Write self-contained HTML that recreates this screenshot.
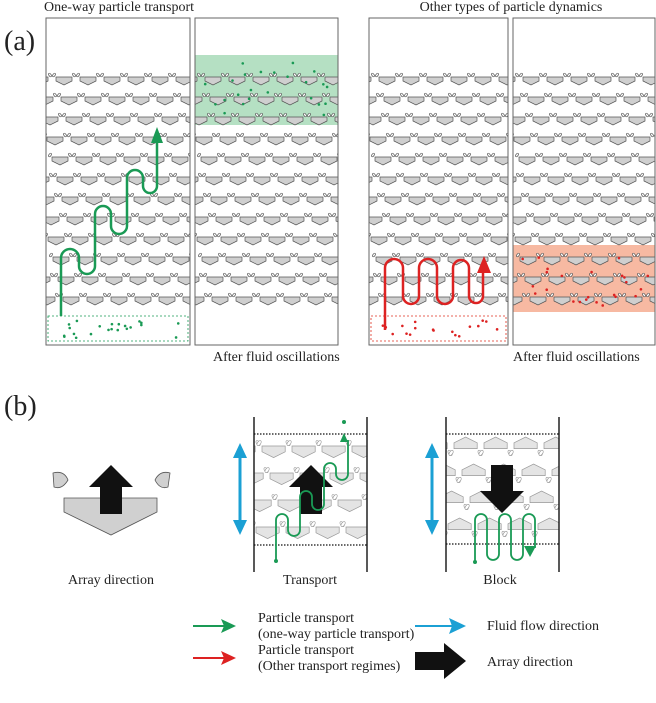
<!DOCTYPE html>
<html><head><meta charset="utf-8"><style>
html,body{margin:0;padding:0;background:#fff}
svg{display:block}
text{font-family:"Liberation Serif",serif;fill:#222}
</style></head><body>
<svg id="s" width="656" height="703" viewBox="0 0 656 703" xmlns="http://www.w3.org/2000/svg">
<defs>
<clipPath id="c1"><rect x="46" y="18" width="144" height="327"/></clipPath>
<clipPath id="c2"><rect x="195" y="18" width="143" height="327"/></clipPath>
<clipPath id="c3"><rect x="369" y="18" width="139" height="327"/></clipPath>
<clipPath id="c4"><rect x="513" y="18" width="142" height="327"/></clipPath>
<clipPath id="ct"><rect x="254" y="434" width="113" height="111"/></clipPath>
<clipPath id="cb"><rect x="446" y="434" width="113" height="110"/></clipPath>
</defs>
<text x="119" y="11" font-size="14" text-anchor="middle">One-way particle transport</text>
<text x="511" y="11" font-size="14" text-anchor="middle">Other types of particle dynamics</text>
<text x="4" y="50" font-size="28">(a)</text>
<rect x="195" y="55" width="143" height="70" fill="#b5e0c3"/>
<rect x="513" y="245" width="142" height="67" fill="#f7b9a2"/>
<g id="arr"></g>
<rect x="46" y="18" width="144" height="327" fill="none" stroke="#666" stroke-width="1"/>
<rect x="195" y="18" width="143" height="327" fill="none" stroke="#666" stroke-width="1"/>
<rect x="369" y="18" width="139" height="327" fill="none" stroke="#666" stroke-width="1"/>
<rect x="513" y="18" width="142" height="327" fill="none" stroke="#666" stroke-width="1"/>
<rect x="48" y="316" width="140" height="25" fill="none" stroke="#1a9a55" stroke-dasharray="2,2" stroke-width="0.8"/>
<rect x="371" y="316" width="135" height="25" fill="none" stroke="#e03020" stroke-dasharray="2,2" stroke-width="0.8"/>
<g id="dots"></g>
<path d="M61 316 V258 a9 9 0 0 1 18 0 V266 a8 8 0 0 0 16 0 V214 a8 8 0 0 1 16 0 V226 a8 8 0 0 0 16 0 V178 a8 8 0 0 1 16 0 V186 a7 7 0 0 0 14 0 V140" fill="none" stroke="#1a9a55" stroke-width="2.5"/>
<polygon points="157,127 151,143 163,143" fill="#1a9a55"/>
<path d="M385 330 V268 a9 9 0 0 1 18 0 V296 a8 8 0 0 0 16 0 V268 a9 9 0 0 1 18 0 V296 a8 8 0 0 0 16 0 V268 a8 8 0 0 1 16 0 V296 a7 7 0 0 0 14 0 V272" fill="none" stroke="#dd2222" stroke-width="2.5"/>
<polygon points="484,256 477,273 491,273" fill="#dd2222"/>
<text x="213" y="361" font-size="14">After fluid oscillations</text>
<text x="513" y="361" font-size="14">After fluid oscillations</text>

<text x="4" y="415" font-size="28">(b)</text>
<polygon points="64,498 157,498 157,512 111,535 64,512" fill="#d0d0d0" stroke="#555" stroke-width="0.8"/>
<path d="M53 473 Q64 470 68 480 Q62 490 54 487 Z" fill="#d0d0d0" stroke="#555" stroke-width="0.8"/>
<path d="M170 473 Q160 470 155 480 Q160 490 168 487 Z" fill="#d0d0d0" stroke="#555" stroke-width="0.8"/>
<polygon points="111,465 133,487 122,487 122,514 100,514 100,487 89,487" fill="#111"/>
<text x="111" y="584" font-size="14" text-anchor="middle">Array direction</text>

<g id="tarr" clip-path="url(#ct)"></g>
<line x1="254" y1="417" x2="254" y2="572" stroke="#222" stroke-width="1.5"/>
<line x1="367" y1="417" x2="367" y2="572" stroke="#222" stroke-width="1.5"/>
<line x1="254" y1="434" x2="367" y2="434" stroke="#111" stroke-dasharray="1.5,1.5" stroke-width="1.2"/>
<line x1="254" y1="545" x2="367" y2="545" stroke="#111" stroke-dasharray="1.5,1.5" stroke-width="1.2"/>
<polygon points="311,465 333,487 322,487 322,514 300,514 300,487 289,487" fill="#111"/>
<path d="M276 561 V520 a6 6 0 0 1 12 0 V530 a6 6 0 0 0 12 0 V497 a6 6 0 0 1 12 0 V504 a6 6 0 0 0 12 0 V469 a6 6 0 0 1 12 0 V474 a6 6 0 0 0 12 0 V440" fill="none" stroke="#1a9a55" stroke-width="1.8"/>
<polygon points="344,433 340,442 348,442" fill="#1a9a55"/>
<circle cx="344" cy="422" r="2" fill="#1a9a55"/><circle cx="276" cy="561" r="2" fill="#1a9a55"/>
<path d="M240 448 V530" stroke="#1ba0d4" stroke-width="3"/>
<polygon points="240,443 233,458 247,458" fill="#1ba0d4"/><polygon points="240,535 233,520 247,520" fill="#1ba0d4"/>
<text x="310" y="584" font-size="14" text-anchor="middle">Transport</text>

<g id="barr" clip-path="url(#cb)"></g>
<line x1="446" y1="417" x2="446" y2="572" stroke="#222" stroke-width="1.5"/>
<line x1="559" y1="417" x2="559" y2="572" stroke="#222" stroke-width="1.5"/>
<line x1="446" y1="434" x2="559" y2="434" stroke="#111" stroke-dasharray="1.5,1.5" stroke-width="1.2"/>
<line x1="446" y1="544" x2="559" y2="544" stroke="#111" stroke-dasharray="1.5,1.5" stroke-width="1.2"/>
<path d="M475 561 V520 a6 6 0 0 1 12 0 V554 a6 6 0 0 0 12 0 V520 a6 6 0 0 1 12 0 V554 a6 6 0 0 0 12 0 V520 a6 6 0 0 1 12 0 V548" fill="none" stroke="#1a9a55" stroke-width="1.8"/>
<polygon points="530,557 524,546 536,546" fill="#1a9a55"/>
<circle cx="475" cy="562" r="2" fill="#1a9a55"/>
<polygon points="502,513 524,491 513,491 513,465 491,465 491,491 480,491" fill="#111"/>
<path d="M432 448 V530" stroke="#1ba0d4" stroke-width="3"/>
<polygon points="432,443 425,458 439,458" fill="#1ba0d4"/><polygon points="432,535 425,520 439,520" fill="#1ba0d4"/>
<text x="500" y="584" font-size="14" text-anchor="middle">Block</text>

<line x1="193" y1="626" x2="226" y2="626" stroke="#1a9a55" stroke-width="2"/>
<polygon points="236,626 221,619 224,626 221,633" fill="#1a9a55"/>
<text x="258" y="622" font-size="14">Particle transport</text>
<text x="258" y="638" font-size="14">(one-way particle transport)</text>
<line x1="193" y1="658" x2="226" y2="658" stroke="#dd2222" stroke-width="2"/>
<polygon points="236,658 221,651 224,658 221,665" fill="#dd2222"/>
<text x="258" y="654" font-size="14">Particle transport</text>
<text x="258" y="670" font-size="14">(Other transport regimes)</text>
<line x1="415" y1="626" x2="455" y2="626" stroke="#1ba0d4" stroke-width="2"/>
<polygon points="466,626 449,618 452,626 449,634" fill="#1ba0d4"/>
<text x="487" y="630" font-size="14">Fluid flow direction</text>
<polygon points="415,652 444,652 444,643 466,661 444,679 444,670 415,670" fill="#111"/>
<text x="487" y="666" font-size="14">Array direction</text>
</svg>
<script>
var NS="http://www.w3.org/2000/svg";
function el(p,t,a){var e=document.createElementNS(NS,t);for(var k in a)e.setAttribute(k,a[k]);p.appendChild(e);return e;}
function cup(g,x,y,s,down,fill,stroke){
  var w=16*s,h=4*s,d=4*s;
  var pts;
  if(!down) pts=[[x,y],[x+w,y],[x+w,y+h],[x+w/2,y+h+d],[x,y+h]];
  else pts=[[x,y+h+d],[x+w,y+h+d],[x+w,y+d],[x+w/2,y],[x,y+d]];
  el(g,"polygon",{points:pts.map(p=>p.join(",")).join(" "),fill:fill,stroke:stroke,"stroke-width":0.7});
  var hy=down?y+h+d+3*s:y-2*s;
  el(g,"ellipse",{cx:x-2*s,cy:hy,rx:1.1*s,ry:2*s,fill:"#fff",stroke:stroke,"stroke-width":0.7,transform:"rotate(35 "+(x-2*s)+" "+hy+")"});
  el(g,"ellipse",{cx:x+w+2*s,cy:hy,rx:1.1*s,ry:2*s,fill:"#fff",stroke:stroke,"stroke-width":0.7,transform:"rotate(-35 "+(x+w+2*s)+" "+hy+")"});
}
var arr=document.getElementById("arr");
[[46,"c1"],[195,"c2"],[369,"c3"],[513,"c4"]].forEach(function(p){
  var g=el(arr,"g",{"clip-path":"url(#"+p[1]+")"});
  for(var r=0;r<12;r++){
    var y=77+r*20, off=((r*5)%24)-14;
    for(var x=p[0]+off;x<p[0]+150;x+=24) cup(g,x,y,1,false,"#cfcfcf","#555");
  }
});
var tg=document.getElementById("tarr");
for(var r=0;r<4;r++){var y=446+r*27,off=((r*8)%30)-22;for(var x=254+off;x<370;x+=30)cup(tg,x,y,1.45,false,"#e4e4e4","#999");}
var bg=document.getElementById("barr");
for(var r=0;r<4;r++){var y=437+r*27,off=((r*8)%30)-22;for(var x=446+off;x<562;x+=30)cup(bg,x,y,1.45,true,"#e4e4e4","#999");}
var dots=document.getElementById("dots");
function rnd(seed){return function(){seed=(seed*9301+49297)%233280;return seed/233280;};}
function scatter(x0,y0,w,h,n,c,seed){var R=rnd(seed);for(var i=0;i<n;i++)el(dots,"circle",{cx:x0+R()*w,cy:y0+R()*h,r:1.3,fill:c});}
scatter(54,320,130,18,22,"#1a9a55",7);
scatter(202,62,130,58,24,"#1a9a55",3);
scatter(378,320,125,18,18,"#dd2222",11);
scatter(520,250,130,58,24,"#dd2222",5);
</script>
</body></html>
